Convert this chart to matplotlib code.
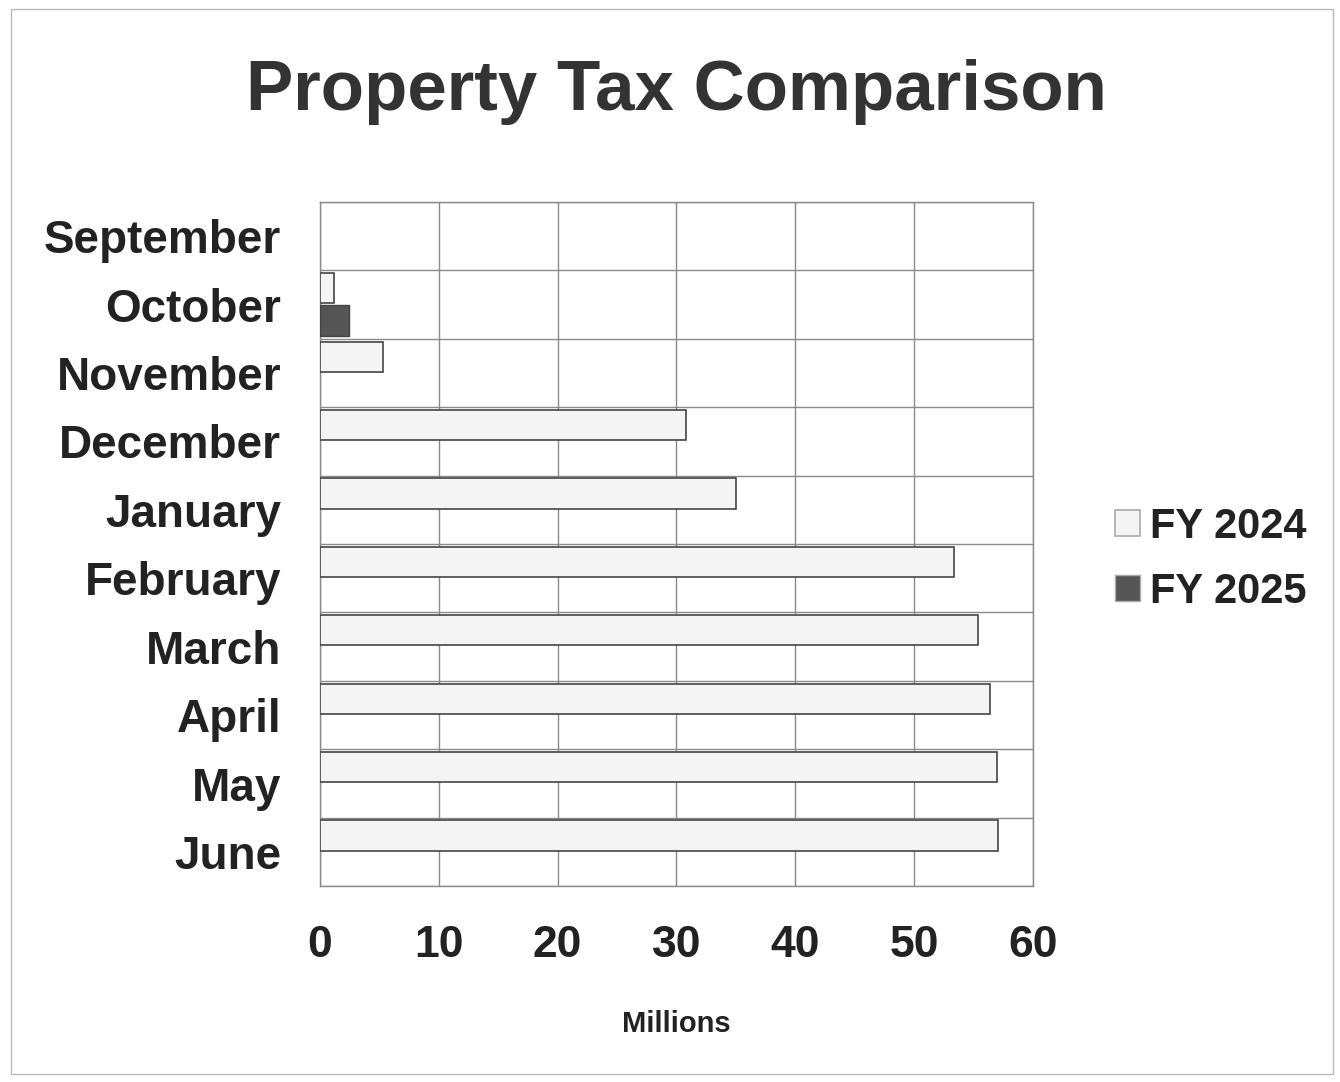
import numpy as np
import matplotlib
matplotlib.use('Agg')
import matplotlib.pyplot as plt
from matplotlib.patches import Rectangle

plt.rcParams['font.family'] = ['Liberation Sans', 'DejaVu Sans']

# data (millions)
months = ['September', 'October', 'November', 'December', 'January',
          'February', 'March', 'April', 'May', 'June']
fy2024 = [0.0, 1.2, 5.3, 30.8, 35.0, 53.4, 55.4, 56.4, 57.0, 57.1]
fy2025 = [0.0, 2.4, 0.0, 0.0, 0.0, 0.0, 0.0, 0.0, 0.0, 0.0]
xticks = [0, 10, 20, 30, 40, 50, 60]

txt = '#222222'
grid = '#8a8a8a'

fig = plt.figure(figsize=(13.4, 10.82), dpi=100)
ax = fig.add_axes([0.2388, 0.181, 0.532, 0.6323])

y = np.arange(len(months))
a = np.array(fy2024)
b = np.array(fy2025)
m1 = a > 0
m2 = b > 0
ax.barh(y[m1] - 0.24, a[m1], height=0.44, color='#f4f4f4',
        edgecolor='#444444', linewidth=1.2, label='FY 2024', zorder=3)
ax.barh(y[m2] + 0.235, b[m2], height=0.45, color='#555555',
        edgecolor='#444444', linewidth=1.0, label='FY 2025', zorder=3)

ax.set_xlim(0, 60)
ax.set_ylim(len(months) - 0.5, -0.5)
ax.set_xticks(xticks)
ax.set_xticklabels([str(t) for t in xticks], fontsize=32,
                   fontweight='bold', color=txt)
ax.set_yticks(y)
ax.set_yticklabels(months, fontsize=33, fontweight='bold', color=txt)
ax.set_yticks(np.arange(-0.5, len(months), 1.0), minor=True)
ax.tick_params(axis='both', which='both', length=0)
ax.tick_params(axis='y', which='major', pad=28)
ax.tick_params(axis='x', which='major', pad=28)
ax.grid(axis='x', which='major', color=grid, linewidth=1.0, zorder=0)
ax.grid(axis='y', which='minor', color=grid, linewidth=1.0, zorder=0)
for s in ax.spines.values():
    s.set_color(grid)
    s.set_linewidth(1.0)

ax.set_xlabel('Millions', fontsize=21, fontweight='bold', color=txt,
              labelpad=32)

fig.text(0.505, 0.915, 'Property Tax Comparison', ha='center', va='center',
         fontsize=51, fontweight='bold', color='#333333')

leg = fig.legend(loc='center left', bbox_to_anchor=(0.804, 0.483),
                 frameon=False, prop={'size': 30, 'weight': 'bold'},
                 handlelength=0.6, handleheight=0.6, handletextpad=0.25,
                 labelspacing=0.6)
for t in leg.get_texts():
    t.set_color(txt)
for h in leg.legend_handles:
    h.set_edgecolor('#aaaaaa')

# thin outer frame of the scanned page
fig.patches.append(Rectangle((0.008, 0.007), 0.987, 0.985,
                             transform=fig.transFigure, fill=False,
                             edgecolor='#bbbbbb', linewidth=1.0))

fig.savefig('out.png', dpi=100)
